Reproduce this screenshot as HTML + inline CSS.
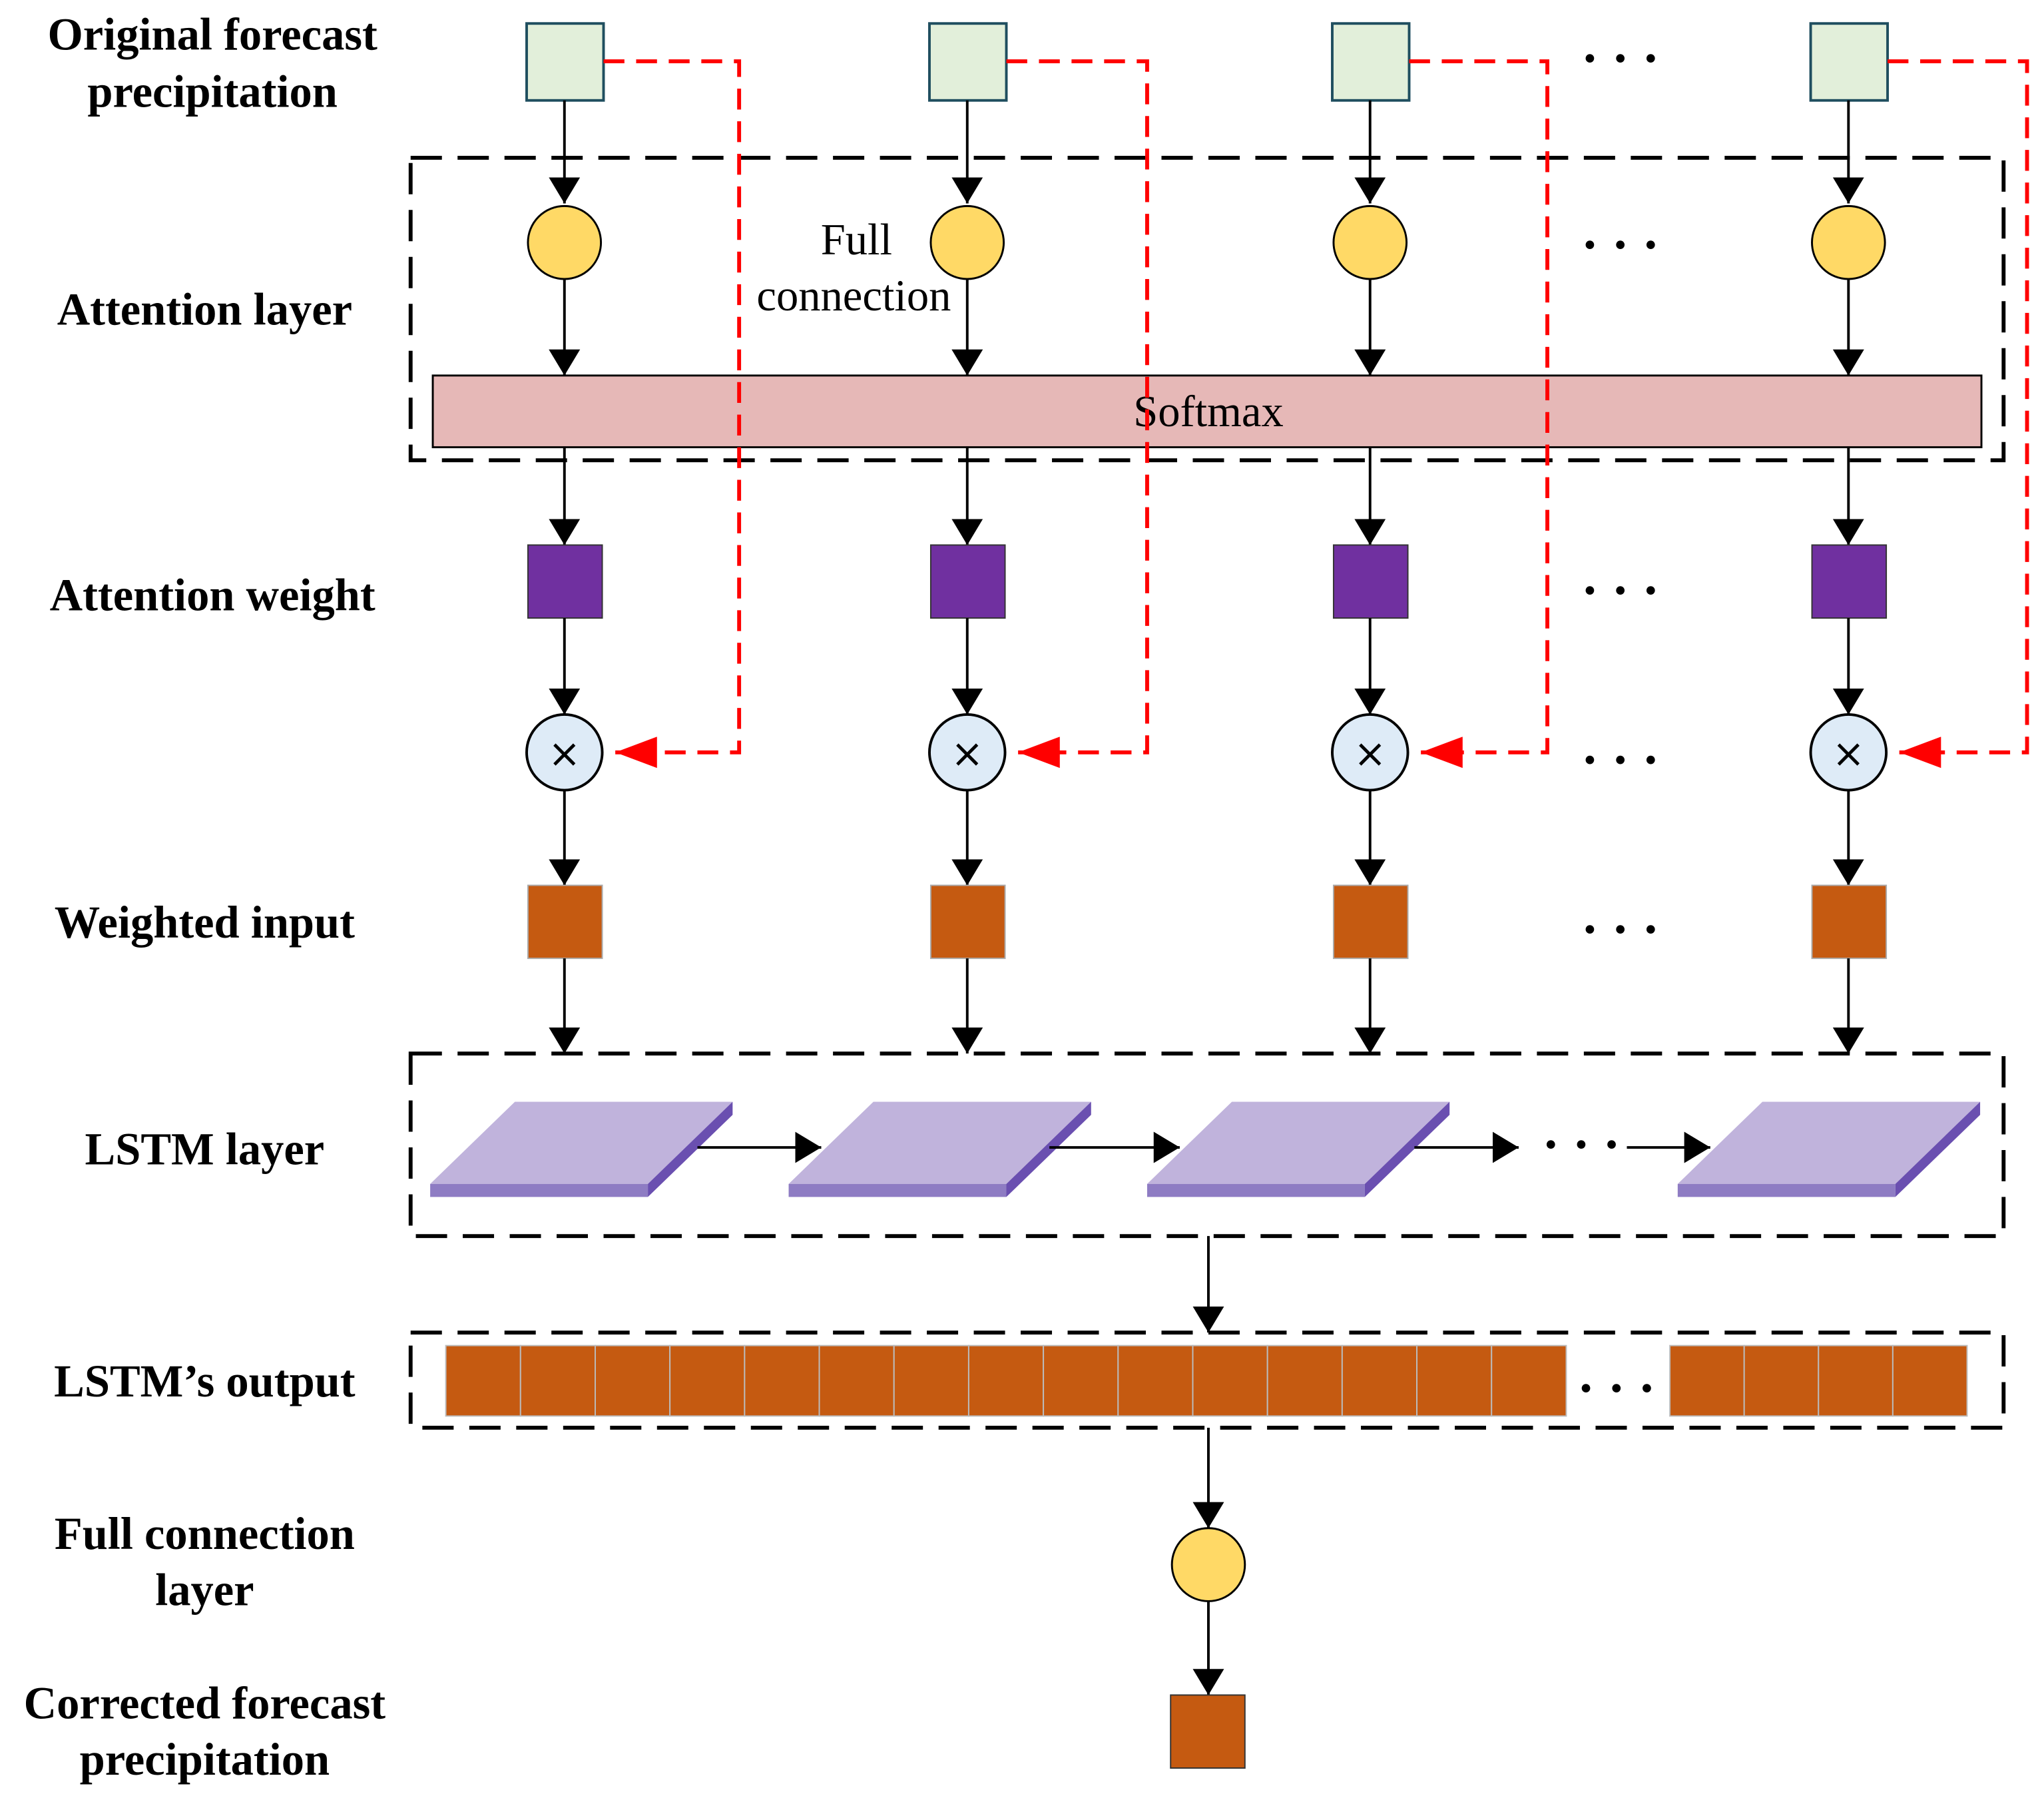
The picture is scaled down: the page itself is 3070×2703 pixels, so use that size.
<!DOCTYPE html>
<html><head><meta charset="utf-8"><style>html,body{margin:0;padding:0;background:#fff}svg{display:block}</style></head>
<body>
<svg width="3070" height="2703" viewBox="0 0 1568 1380.5" preserveAspectRatio="none" xmlns="http://www.w3.org/2000/svg" font-family="Liberation Serif, serif">
<defs>
<marker id="ab" markerWidth="20" markerHeight="24" refX="20" refY="12" orient="auto" markerUnits="userSpaceOnUse"><path d="M0,0 L20,12 L0,24z" fill="#000"/></marker>
<marker id="r" markerWidth="32" markerHeight="24" refX="32" refY="12" orient="auto" markerUnits="userSpaceOnUse"><path d="M0,0 L32,12 L0,24z" fill="#f00"/></marker>
</defs>
<g font-weight="bold" font-size="35" text-anchor="middle" fill="#000">
<text x="163" y="38">Original forecast</text><text x="163" y="82">precipitation</text>
<text x="157" y="249">Attention layer</text>
<text x="163" y="468">Attention weight</text>
<text x="157" y="719">Weighted input</text>
<text x="157" y="893">LSTM layer</text>
<text x="157" y="1071">LSTM’s output</text>
<text x="157" y="1188">Full connection</text><text x="157" y="1231">layer</text>
<text x="157" y="1318">Corrected forecast</text><text x="157" y="1361">precipitation</text>
</g>
<text x="657" y="195" font-size="34" text-anchor="middle">Full</text>
<text x="655" y="238" font-size="34" text-anchor="middle">connection</text>
<g fill="none" stroke="#000" stroke-width="3" stroke-dasharray="24 12">
<rect x="315" y="121" width="1222" height="232"/>
<rect x="315" y="808" width="1222" height="140"/>
<rect x="315" y="1022" width="1222" height="73"/>
</g>
<rect x="332" y="288" width="1188" height="55" fill="#e6b8b7" stroke="#000" stroke-width="1.5"/>
<text x="927" y="327" font-size="34" text-anchor="middle">Softmax</text>
<g id="cols">
<g id="c0">
<rect x="404" y="18" width="59" height="59" fill="#e2efda" stroke="#1f4e5f" stroke-width="2"/>
<line x1="433" y1="77" x2="433" y2="156" stroke="#000" stroke-width="2" marker-end="url(#ab)"/>
<circle cx="433" cy="186" r="28" fill="#ffd966" stroke="#000" stroke-width="1.5"/>
<line x1="433" y1="214" x2="433" y2="288" stroke="#000" stroke-width="2" marker-end="url(#ab)"/>
<line x1="433" y1="343" x2="433" y2="418" stroke="#000" stroke-width="2" marker-end="url(#ab)"/>
<rect x="405" y="418" width="57" height="56" fill="#7030a0" stroke="#333" stroke-width="1"/>
<line x1="433" y1="474" x2="433" y2="548" stroke="#000" stroke-width="2" marker-end="url(#ab)"/>
<circle cx="433" cy="577" r="29" fill="#deebf7" stroke="#000" stroke-width="2"/>
<text x="433" y="588" font-family="DejaVu Sans, sans-serif" font-size="30" text-anchor="middle">×</text>
<line x1="433" y1="606" x2="433" y2="679" stroke="#000" stroke-width="2" marker-end="url(#ab)"/>
<rect x="405" y="679" width="57" height="56" fill="#c55a11" stroke="#aaa" stroke-width="1"/>
<line x1="433" y1="735" x2="433" y2="808" stroke="#000" stroke-width="2" marker-end="url(#ab)"/>
</g>
</g>
<use href="#c0" x="309"/><use href="#c0" x="618"/><use href="#c0" x="985"/>
<g fill="none" stroke="#f00" stroke-width="3" stroke-dasharray="16 9">
<polyline points="463,47 567,47 567,577 472,577" marker-end="url(#r)"/>
<polyline points="772,47 880,47 880,577 781,577" marker-end="url(#r)"/>
<polyline points="1081,47 1187,47 1187,577 1090,577" marker-end="url(#r)"/>
<polyline points="1448,47 1555,47 1555,577 1457,577" marker-end="url(#r)"/>
</g>
<g font-size="40" text-anchor="middle" font-weight="bold">
<text x="1243" y="58">· · ·</text><text x="1243" y="201">· · ·</text><text x="1243" y="466">· · ·</text><text x="1243" y="596">· · ·</text><text x="1243" y="726">· · ·</text>
<text x="1213" y="891">· · ·</text><text x="1240" y="1078">· · ·</text>
</g>
<g id="s0">
<polygon points="330,908 497,908 562,845 395,845" fill="#c0b3dc"/>
<rect x="330" y="908" width="167" height="10" fill="#8e7cc3"/>
<polygon points="497,908 562,845 562,855 497,918" fill="#6a4fb0"/>
</g>
<use href="#s0" x="275"/><use href="#s0" x="550"/><use href="#s0" x="957"/>
<g stroke="#000" stroke-width="2">
<line x1="535" y1="880" x2="630" y2="880" marker-end="url(#ab)"/>
<line x1="805" y1="880" x2="905" y2="880" marker-end="url(#ab)"/>
<line x1="1085" y1="880" x2="1165" y2="880" marker-end="url(#ab)"/>
<line x1="1248" y1="880" x2="1312" y2="880" marker-end="url(#ab)"/>
<line x1="927" y1="948" x2="927" y2="1022" marker-end="url(#ab)"/>
<line x1="927" y1="1095" x2="927" y2="1172" marker-end="url(#ab)"/>
<line x1="927" y1="1228" x2="927" y2="1300" marker-end="url(#ab)"/>
</g>
<g fill="#c55a11" stroke="#bbb" stroke-width="1">
<rect x="342" y="1032" width="57.3" height="54"/><rect x="399.3" y="1032" width="57.3" height="54"/><rect x="456.6" y="1032" width="57.3" height="54"/><rect x="513.9" y="1032" width="57.3" height="54"/><rect x="571.2" y="1032" width="57.3" height="54"/><rect x="628.5" y="1032" width="57.3" height="54"/><rect x="685.8" y="1032" width="57.3" height="54"/><rect x="743.1" y="1032" width="57.3" height="54"/><rect x="800.4" y="1032" width="57.3" height="54"/><rect x="857.7" y="1032" width="57.3" height="54"/><rect x="915" y="1032" width="57.3" height="54"/><rect x="972.3" y="1032" width="57.3" height="54"/><rect x="1029.6" y="1032" width="57.3" height="54"/><rect x="1086.9" y="1032" width="57.3" height="54"/><rect x="1144.2" y="1032" width="57.3" height="54"/>
<rect x="1281" y="1032" width="57" height="54"/><rect x="1338" y="1032" width="57" height="54"/><rect x="1395" y="1032" width="57" height="54"/><rect x="1452" y="1032" width="57" height="54"/>
</g>
<circle cx="927" cy="1200" r="28" fill="#ffd966" stroke="#000" stroke-width="1.5"/>
<rect x="898" y="1300" width="57" height="56" fill="#c55a11" stroke="#333" stroke-width="1"/>
</svg>
</body></html>
